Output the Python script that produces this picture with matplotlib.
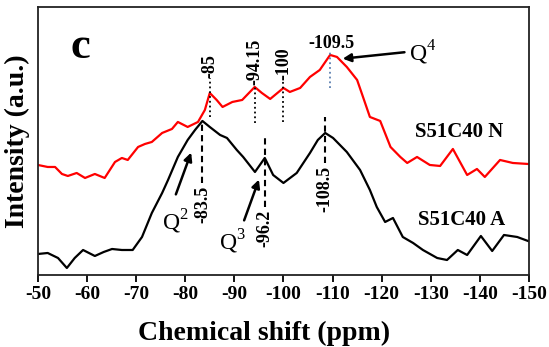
import matplotlib
matplotlib.use('Agg')
import matplotlib.pyplot as plt

plt.rcParams['font.family'] = ['Liberation Serif', 'DejaVu Serif']
plt.rcParams['mathtext.fontset'] = 'custom'
plt.rcParams['mathtext.rm'] = 'Liberation Serif'
plt.rcParams['mathtext.bf'] = 'Liberation Serif:bold'
plt.rcParams['axes.unicode_minus'] = False

# S51C40 N (red) spectrum
shift_n = [-50.0, -52.0, -53.5, -54.9, -56.1, -57.9, -59.6, -61.6, -63.6, -65.7,
           -67.1, -68.3, -70.4, -71.8, -73.2, -75.3, -77.3, -78.5, -80.5, -82.6,
           -84.0, -85.0, -86.4, -87.6, -89.6, -91.6, -94.15, -95.6, -97.3, -100.0,
           -101.3, -103.4, -105.4, -107.4, -109.5, -110.9, -112.9, -115.0, -116.2, -117.6,
           -119.7, -121.8, -123.8, -125.2, -127.2, -129.8, -131.9, -134.5, -137.4, -139.4,
           -141.0, -144.1, -146.7, -149.8]
int_n = [110, 108, 108, 101, 99, 102, 97, 101, 97, 113,
         117, 115, 128, 131, 133, 142, 146, 153, 148, 153,
         165, 182, 175, 168, 173, 175, 188, 182, 176, 187,
         183, 187, 198, 205, 220, 218, 208, 195, 178, 158,
         154, 128, 118, 112, 118, 110, 109, 126, 100, 106,
         98, 115, 112, 111]

# S51C40 A (black) spectrum
shift_a = [-50.0, -52.0, -54.1, -55.9, -57.5, -59.2, -61.6, -63.4, -65.1, -67.1,
           -69.3, -71.2, -73.2, -75.3, -76.5, -78.5, -80.5, -82.0, -83.5, -85.0,
           -87.1, -88.5, -90.5, -91.8, -94.2, -96.2, -97.9, -100.0, -102.7, -105.4,
           -107.0, -108.5, -110.1, -112.9, -115.6, -117.6, -119.0, -120.7, -122.3, -124.3,
           -126.4, -128.4, -131.3, -133.3, -135.5, -137.4, -140.2, -142.5, -144.9, -147.6,
           -149.8]
int_a = [21, 22, 17, 7, 17, 25, 19, 23, 26, 25,
         25, 38, 62, 82, 95, 118, 135, 145, 154, 148,
         140, 137, 125, 118, 103, 117, 100, 92, 102, 122,
         135, 142, 137, 123, 105, 85, 68, 53, 57, 38,
         32, 25, 17, 15, 25, 20, 39, 24, 40, 38,
         34]

peaks_n = [-85, -94.15, -100]
peak_labels_n = ['-85', '-94.15', '-100']
peaks_a = [-83.5, -96.2, -108.5]
peak_labels_a = ['-83.5', '-96.2', '-108.5']

fig = plt.figure(figsize=(5.49, 3.47), dpi=100)
ax = fig.add_axes([0.069, 0.2075, 0.8946, 0.7725])

ax.plot(shift_n, int_n, color='#ff0000', lw=1.6)
ax.plot(shift_a, int_a, color='black', lw=1.6)

# red peak markers (dotted) with rotated labels
n_top = [197, 190, 195]
n_bot = [158, 152, 153]
for x, lab, t, b in zip(peaks_n, peak_labels_n, n_top, n_bot):
    ax.plot([x, x], [b, t], color='black', lw=1.3, ls=':')
    ax.text(x, t, lab, rotation=90, ha='center', va='bottom',
            fontsize=13, fontweight='bold')

# -109.5 peak
ax.plot([-109.5, -109.5], [187, 223], color='#5b7fb0', lw=1.3, ls=':')
ax.text(-109.7, 231, '-109.5', ha='center', va='center', fontsize=13, fontweight='bold')

# black peak markers (dashed) with rotated labels below
a_top = [152, 138, 158]
a_bot = [92, 68, 112]
for x, lab, t, b in zip(peaks_a, peak_labels_a, a_top, a_bot):
    ax.plot([x, x], [b, t], color='black', lw=1.5, ls=(0, (3, 2)))
    ax.text(x, b - 3, lab, rotation=90, ha='center', va='top',
            fontsize=13, fontweight='bold')

arrow = dict(arrowstyle='-|>', color='black', lw=1.8, mutation_scale=12)
ax.annotate('', xy=(-111.5, 216), xytext=(-125.2, 223), arrowprops=arrow)
ax.text(-125.6, 222, r'Q$^{\mathrm{4}}$', ha='left', va='center', fontsize=17)
ax.annotate('', xy=(-81.4, 125), xytext=(-77.9, 78), arrowprops=arrow)
ax.text(-77.9, 53, r'Q$^{\mathrm{2}}$', ha='center', va='center', fontsize=17)
ax.annotate('', xy=(-95.2, 98), xytext=(-91.8, 52), arrowprops=arrow)
ax.text(-89.7, 33, r'Q$^{\mathrm{3}}$', ha='center', va='center', fontsize=17)

ax.text(-135.7, 143, 'S51C40 N', ha='center', va='center', fontsize=15, fontweight='bold')
ax.text(-136.2, 55, 'S51C40 A', ha='center', va='center', fontsize=15, fontweight='bold')
ax.text(-58.6, 228, 'c', ha='center', va='center', fontsize=32, fontweight='bold')

ax.set_xlim(-50, -150)
ax.set_ylim(0, 268)
ax.set_xticks(range(-50, -151, -10))
ax.set_yticks([])
for lab in ax.get_xticklabels():
    lab.set_fontweight('bold')
ax.tick_params(axis='x', direction='out', length=5, width=1.3, labelsize=14, pad=3)
for s in ax.spines.values():
    s.set_linewidth(1.3)
    s.set_color('#222222')

ax.set_xlabel('Chemical shift (ppm)', fontsize=20, fontweight='bold', labelpad=2)
ax.xaxis.set_label_coords(0.46, -0.17)
ax.set_ylabel('Intensity (a.u.)', fontsize=20, fontweight='bold', labelpad=6)

fig.savefig('out.png', dpi=100)
